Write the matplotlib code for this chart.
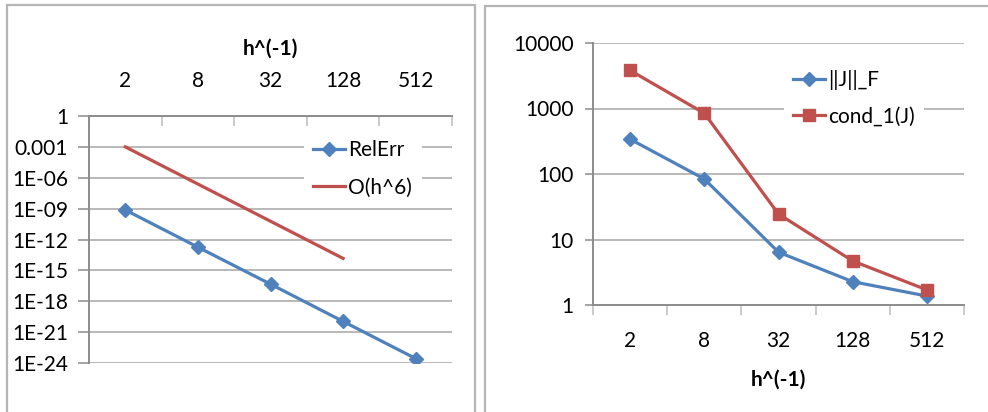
import matplotlib
matplotlib.use("Agg")
import matplotlib.pyplot as plt
from matplotlib.patches import Rectangle
from matplotlib.ticker import FixedLocator, NullFormatter, FixedFormatter

plt.rcParams['font.family'] = ['Lato', 'DejaVu Sans']

# dati
h_inv = ['2', '8', '32', '128', '512']
rel_err = [7.4e-10, 1.8e-13, 4.6e-17, 1.1e-20, 2.7e-24]
o_h6 = [1.0e-3, 2.44e-7, 5.96e-11, 1.46e-14]
norm_f = [340, 84, 6.4, 2.27, 1.37]
cond_1 = [3820, 845, 24.5, 4.7, 1.7]

left_ticks = [1, 1e-3, 1e-6, 1e-9, 1e-12, 1e-15, 1e-18, 1e-21, 1e-24]
left_labels = ['1', '0.001', '1E-06', '1E-09', '1E-12', '1E-15', '1E-18', '1E-21', '1E-24']
right_ticks = [1, 10, 100, 1000, 10000]
right_labels = ['1', '10', '100', '1000', '10000']

BLUE = '#4F81BD'
RED = '#C0504D'
GRID = '#a6a6a6'
AXIS = '#8c8c8c'
FS = 15
LW = 2.3

W, H = 988, 412
fig = plt.figure(figsize=(W / 100, H / 100), dpi=100)


def px_axes(x0, y0, x1, y1):
    return fig.add_axes([x0 / W, (H - y1) / H, (x1 - x0) / W, (y1 - y0) / H])


def frame(x0, y0, x1, y1):
    fig.patches.append(Rectangle((x0 / W, (H - y1) / H), (x1 - x0) / W, (y1 - y0) / H,
                                 transform=fig.transFigure, fill=False,
                                 edgecolor='#b5b5b5', linewidth=1.6))


def setup_category_axis(ax, n):
    ax.set_xlim(-0.5, n - 0.5)
    ax.xaxis.set_major_locator(FixedLocator([i - 0.5 for i in range(n + 1)]))
    ax.xaxis.set_major_formatter(NullFormatter())
    ax.xaxis.set_minor_locator(FixedLocator(list(range(n))))
    ax.xaxis.set_minor_formatter(FixedFormatter(h_inv))
    ax.tick_params(axis='x', which='minor', length=0, labelsize=FS)


def style_axes(ax):
    for s in ax.spines.values():
        s.set_visible(False)
    ax.set_facecolor('none')
    ax.yaxis.grid(True, color=GRID, linewidth=1.1)
    ax.set_axisbelow(True)
    ax.yaxis.set_minor_locator(FixedLocator([]))


def white_legend(ax, x, y, spacing):
    leg = ax.legend(loc='upper left', bbox_to_anchor=(x / W, (H - y) / H),
                    bbox_transform=fig.transFigure, frameon=True, fontsize=FS,
                    handlelength=1.55, handletextpad=0.15, labelspacing=spacing,
                    borderpad=0.45, borderaxespad=0, fancybox=False)
    leg.get_frame().set_edgecolor('none')
    leg.get_frame().set_facecolor('white')
    leg.get_frame().set_alpha(1)
    return leg


frame(6.5, 5, 475, 420)
frame(484.5, 6, 1000, 420)

# --- grafico errore relativo ---
x = list(range(len(h_inv)))
ax1 = px_axes(89, 116, 452, 363)
style_axes(ax1)
ax1.set_yscale('log')
ax1.set_ylim(1e-24, 1)
ax1.yaxis.set_major_locator(FixedLocator(left_ticks))
ax1.yaxis.set_major_formatter(FixedFormatter(left_labels))
ax1.yaxis.set_minor_locator(FixedLocator([]))
ax1.tick_params(axis='y', which='major', length=8, width=1.1, color=AXIS, pad=7, labelsize=FS)
setup_category_axis(ax1, len(h_inv))
ax1.xaxis.tick_top()
ax1.tick_params(axis='x', which='major', direction='in', length=7, width=1.1, color='#bdbdbd',
                top=True, bottom=False)
ax1.tick_params(axis='x', which='minor', top=True, bottom=False, labeltop=True,
                labelbottom=False, pad=18)
for side in ('top', 'left'):
    ax1.spines[side].set_visible(True)
    ax1.spines[side].set_color(AXIS)
    ax1.spines[side].set_linewidth(1.4)
ax1.xaxis.set_label_position('top')
ax1.set_xlabel('h^(-1)', fontsize=FS, fontweight='bold', labelpad=12)

ax1.plot(x, rel_err, color=BLUE, linewidth=LW, marker='D', markersize=7,
         markerfacecolor=BLUE, markeredgecolor=BLUE, label='RelErr', zorder=3)
ax1.plot(x[:len(o_h6)], o_h6, color=RED, linewidth=LW, label='O(h^6)', zorder=3)
white_legend(ax1, 303.5, 130.5, 0.85)

# --- grafico norma / condizionamento ---
ax2 = px_axes(593, 43, 964, 305)
style_axes(ax2)
ax2.set_yscale('log')
ax2.set_ylim(1, 10000)
ax2.yaxis.set_major_locator(FixedLocator(right_ticks))
ax2.yaxis.set_major_formatter(FixedFormatter(right_labels))
ax2.yaxis.set_minor_locator(FixedLocator([]))
ax2.tick_params(axis='y', which='major', length=6, width=1.1, color=AXIS, pad=8, labelsize=FS)
setup_category_axis(ax2, len(h_inv))
ax2.tick_params(axis='x', which='major', direction='out', length=7, width=1.1, color='#bdbdbd')
ax2.tick_params(axis='x', which='minor', pad=18.5)
for side in ('bottom', 'left'):
    ax2.spines[side].set_visible(True)
    ax2.spines[side].set_color(AXIS)
    ax2.spines[side].set_linewidth(1.4)
ax2.set_xlabel('h^(-1)', fontsize=FS, fontweight='bold', labelpad=13.5)

ax2.plot(x, norm_f, color=BLUE, linewidth=LW, marker='D', markersize=7,
         markerfacecolor=BLUE, markeredgecolor=BLUE, label='||J||_F', zorder=3)
ax2.plot(x, cond_1, color=RED, linewidth=LW, marker='s', markersize=8,
         markerfacecolor=RED, markeredgecolor=RED, label='cond_1(J)', zorder=3)
white_legend(ax2, 783.5, 60.5, 0.8)

fig.savefig('out.png', dpi=100, facecolor='white')
